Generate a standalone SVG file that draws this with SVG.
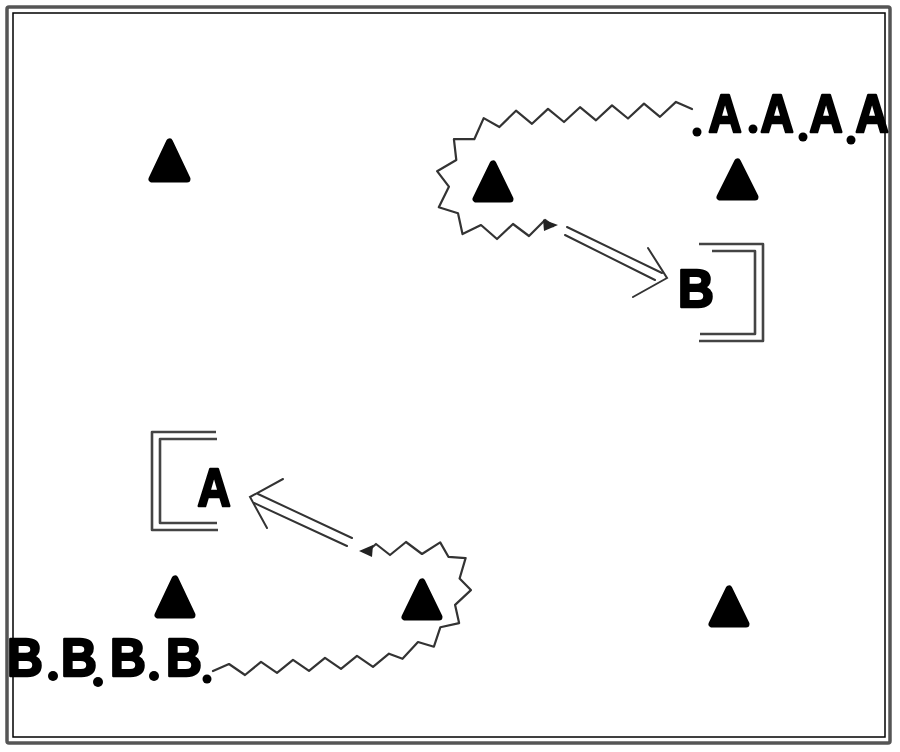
<svg xmlns="http://www.w3.org/2000/svg" width="900" height="752" viewBox="0 0 900 752">
<style>
.tri{fill:#000;stroke:#000;stroke-width:7;stroke-linejoin:round}
.lt{font-family:"Liberation Sans","Arial",sans-serif;font-weight:bold;font-size:54px;fill:#000;stroke:#000;stroke-width:2.6;stroke-linejoin:round}
.wave{fill:none;stroke:#333;stroke-width:2.2;stroke-linejoin:round;stroke-linecap:round}
.dl{stroke:#333;stroke-width:2;fill:none;stroke-linecap:round}
.bk{fill:none;stroke:#444;stroke-width:2.6;stroke-linejoin:round}
.dot{fill:#000}
</style>
<rect width="900" height="752" fill="#fff"/>
<g id="frame">
<rect x="7" y="7" width="883" height="736" rx="2" fill="none" stroke="#555" stroke-width="3.5"/>
<rect x="13" y="13" width="872" height="724" fill="none" stroke="#000" stroke-width="1.5"/>
</g>
<g id="triangles">
<polygon id="t1" class="tri" points="169.5,142 152,179 187,179"/>
<polygon id="t2" class="tri" points="493,164 476,199 510,199"/>
<polygon id="t3" class="tri" points="737.5,162 720,197 755,197"/>
<polygon id="t4" class="tri" points="175,579 158,615 192,615"/>
<polygon id="t5" class="tri" points="422,582 405,617 439,617"/>
<polygon id="t6" class="tri" points="729,589 712,624 746,624"/>
</g>
<g id="seqA">
<text class="lt" text-anchor="middle" transform="translate(725,132) scale(0.85,1)">A</text>
<text class="lt" text-anchor="middle" transform="translate(777,132) scale(0.85,1)">A</text>
<text class="lt" text-anchor="middle" transform="translate(826,132) scale(0.85,1)">A</text>
<text class="lt" text-anchor="middle" transform="translate(872,132) scale(0.85,1)">A</text>
<circle class="dot" cx="697" cy="132" r="4.5"/>
<circle class="dot" cx="753" cy="129" r="4.5"/>
<circle class="dot" cx="803" cy="137" r="4.5"/>
<circle class="dot" cx="851" cy="140" r="4.5"/>
</g>
<g id="seqB">
<text class="lt" text-anchor="middle" transform="translate(25,676) scale(0.92,1)">B</text>
<text class="lt" text-anchor="middle" transform="translate(79,676) scale(0.92,1)">B</text>
<text class="lt" text-anchor="middle" transform="translate(128,676) scale(0.92,1)">B</text>
<text class="lt" text-anchor="middle" transform="translate(184,676) scale(0.92,1)">B</text>
<circle class="dot" cx="53" cy="676" r="5"/>
<circle class="dot" cx="98" cy="682" r="5"/>
<circle class="dot" cx="154" cy="676" r="5"/>
<circle class="dot" cx="207" cy="679" r="4.5"/>
</g>
<g id="boxB">
<path class="bk" d="M699,244 H763 V341 H699"/>
<path class="bk" d="M712,251 H755 V334 H700"/>
<text class="lt" text-anchor="middle" transform="translate(696,307) scale(0.92,1)">B</text>
</g>
<g id="boxA">
<path class="bk" d="M216,432 H152 V530 H218"/>
<path class="bk" d="M217,439 H160 V523 H217"/>
<text class="lt" text-anchor="middle" transform="translate(214,506) scale(0.85,1)">A</text>
</g>
<g id="connectors">
<polyline class="wave" points="692,109 676,101.9 660,116.8 644,103.6 628,118.5 612,105.4 596,120.3 580,107.2 564,122 548,108.9 532,123.8 516,110.7 499.4,127 483.7,118.1 474.3,139.2 453.9,139.2 456.3,160 437.1,171.2 448.9,186.7 438.8,207.2 458,213.2 462.5,234.1 481,225 497,239 513,224 529,236 545,220 553,226"/>
<polygon points="558,225 543,219.5 544,231" fill="#222"/>
<polyline class="wave" points="213,671 229,664 245,675 261,661.9 277,672.9 293,659.9 309,670.9 325,657.8 341,668.8 357,655.8 373,666.8 389,653.7 402.5,658.8 418,642 433.9,646.7 440.4,627.2 459.1,623.1 455.1,604.9 470.9,590.1 459.6,578.5 465.6,558.1 448.4,556.8 440.2,542.4 422,554 406,542 390,555 376,544 368,551"/>
<polygon points="359,551 373,545 372,557" fill="#222"/>
<line class="dl" x1="567" y1="227" x2="662" y2="273"/>
<line class="dl" x1="565" y1="235" x2="655" y2="280"/>
<polyline class="dl" points="648,248 667,278 633,297"/>
<line class="dl" x1="258" y1="494" x2="352" y2="538"/>
<line class="dl" x1="254" y1="503" x2="347" y2="546"/>
<polyline class="dl" points="283,479 250,497 267,528"/>
</g>
</svg>
